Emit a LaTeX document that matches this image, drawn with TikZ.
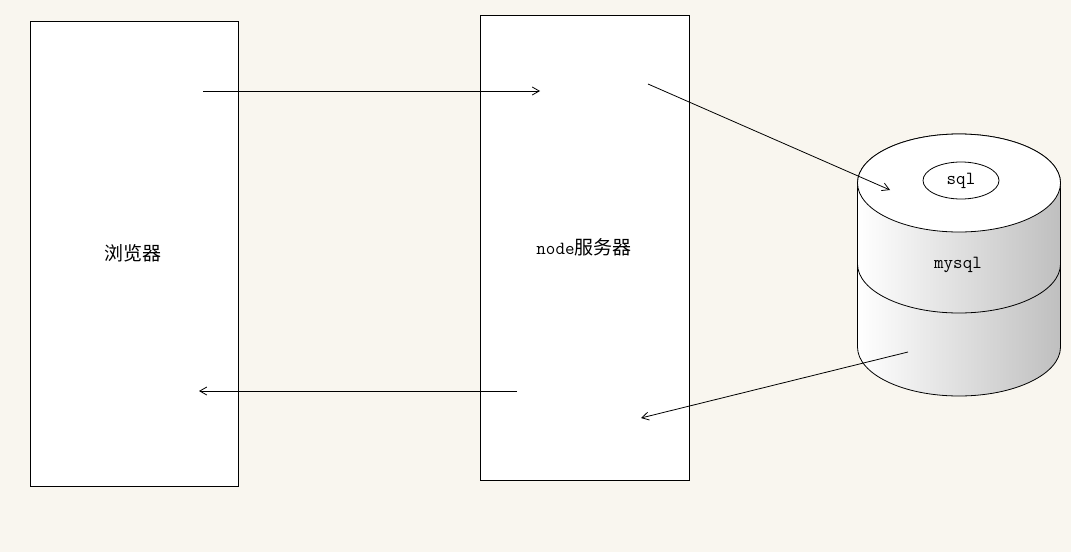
\documentclass[tikz,border=0pt]{standalone}
\usepackage{fontspec}
\setmainfont{Liberation Serif}
\newfontfamily\cjk{Noto Sans CJK SC}
\usetikzlibrary{arrows.meta,shapes.geometric}
\definecolor{bg}{RGB}{249,246,239}
\begin{document}
\begin{tikzpicture}[x=1pt,y=-1pt,
  panel/.style={draw=black,fill=white,line width=0.8pt},
  link/.style={draw=black,line width=0.8pt,-{Straight Barb[length=7pt,width=8pt]}},
  lbl/.style={font=\fontsize{19}{22}\selectfont, inner sep=0pt},
  mono/.style={font=\ttfamily\fontsize{18.5}{22}\selectfont, inner sep=0pt}]
\fill[bg] (0,0) rectangle (1071,552);
\useasboundingbox (0,0) rectangle (1071,552);
% boxes
\node[panel, minimum width=208pt, minimum height=465pt, anchor=north west] (browser) at (30,21) {};
\node[panel, minimum width=209pt, minimum height=465pt, anchor=north west] (server) at (480,15) {};
\node[lbl] (browserlbl) at (133,253) {\cjk 浏览器};
\node[lbl] (serverlbl) at (584,247) {{\ttfamily\fontsize{18.5}{22}\selectfont node}\cjk 服务器};
% cylinder
\shade[left color=white, right color=black!25, draw=black, line width=0.8pt]
  (857.5,183) -- (857.5,347) arc[start angle=180,end angle=0,x radius=101.5,y radius=49]
  -- (1060.5,183) arc[start angle=0,end angle=-180,x radius=101.5,y radius=49] -- cycle;
\draw[line width=0.8pt] (857.5,264) arc[start angle=180,end angle=0,x radius=101.5,y radius=49];
\draw[line width=0.8pt, fill=white] (959,183) ellipse[x radius=101.5,y radius=49];
\node[draw=black, line width=0.8pt, ellipse, minimum width=76pt, minimum height=37pt, inner sep=0pt, mono] (sql) at (961,180.5) {sql};
\node[mono] (mysqllbl) at (958,265) {mysql};
% connectors
\coordinate (a1) at (203,91); \coordinate (a2) at (540,91);
\coordinate (b1) at (648,84); \coordinate (b2) at (890,190);
\coordinate (c1) at (908,352); \coordinate (c2) at (641,418);
\coordinate (d1) at (517,391); \coordinate (d2) at (199,391);
\draw[link] (a1) -- (a2);
\draw[link] (b1) -- (b2);
\draw[link] (c1) -- (c2);
\draw[link] (d1) -- (d2);
\end{tikzpicture}
\end{document}
